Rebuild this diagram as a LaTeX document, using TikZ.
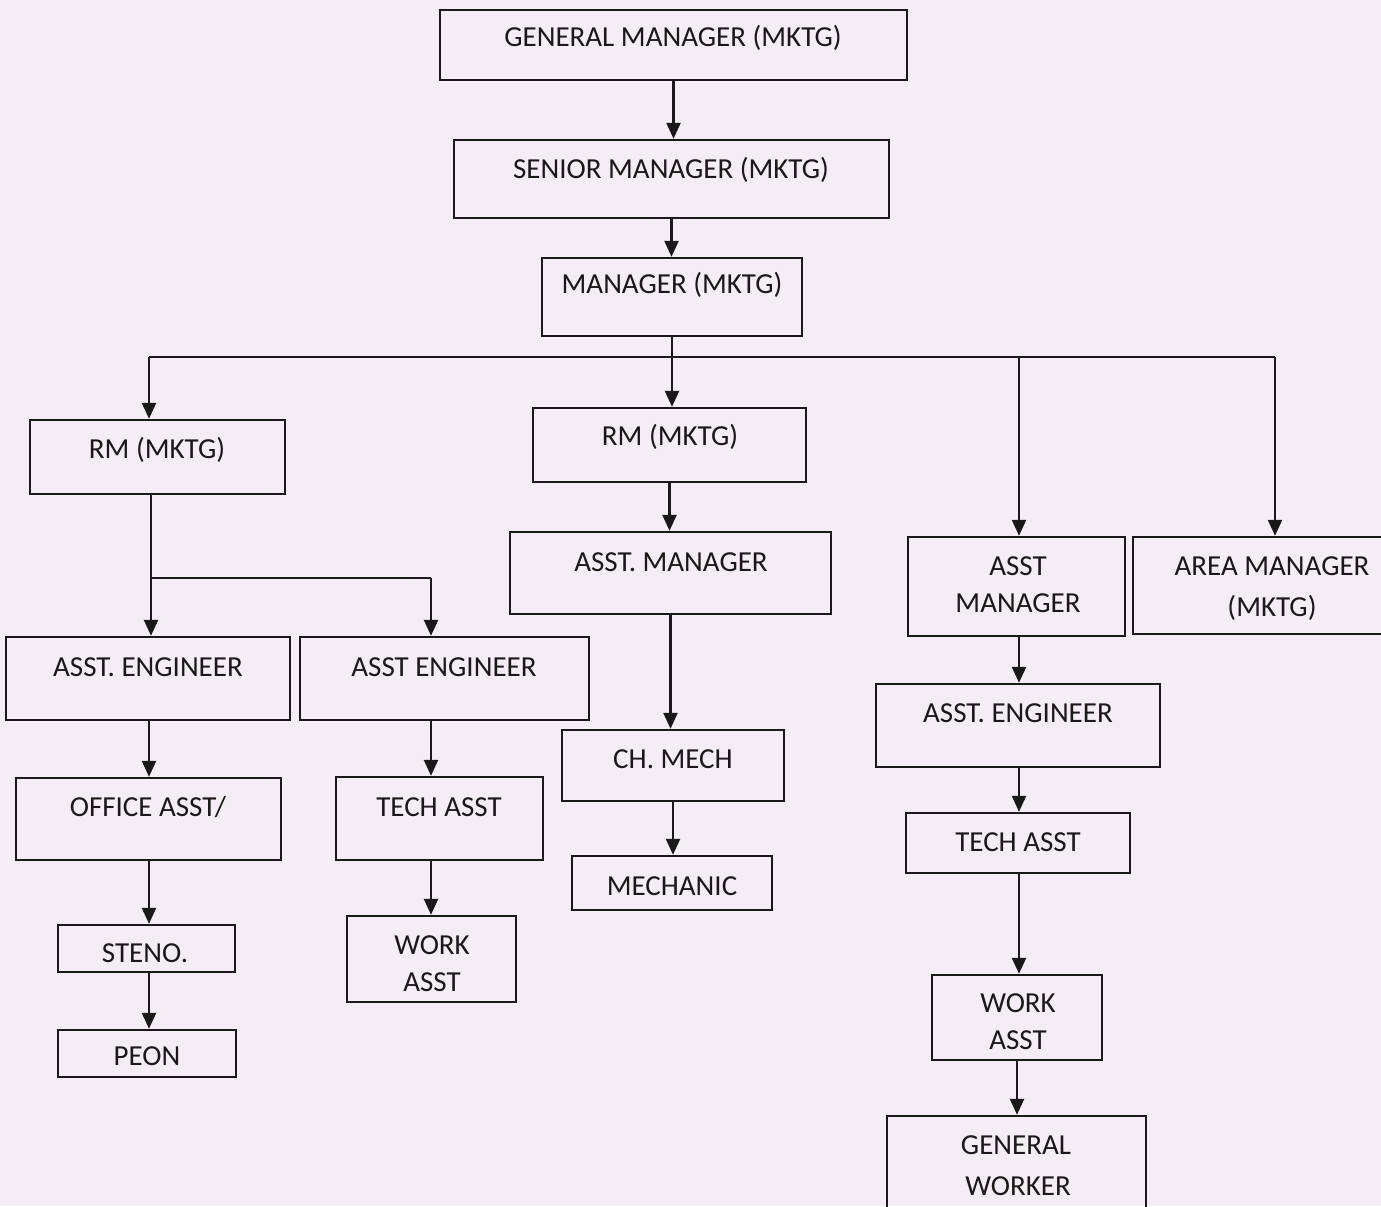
\documentclass[tikz,border=0pt]{standalone}
\usepackage{fontspec}
\setmainfont{Carlito}
\usetikzlibrary{arrows.meta,fit}
\definecolor{bg}{RGB}{245,237,245}
\definecolor{ink}{RGB}{25,25,25}
\begin{document}
\begin{tikzpicture}[x=0.5pt,y=-0.5pt,
  box/.style={draw=ink,line width=1.2pt,inner sep=0pt,rectangle},
  lbl/.style={text=ink,font=\fontsize{14.5}{17}\selectfont,inner sep=0pt,anchor=center},
  arr/.style={draw=ink,line width=1.2pt,-{Triangle[length=8pt,width=7pt]}},
  ln/.style={draw=ink,line width=1.2pt}]
\clip (0,0) rectangle (1381,1206);
\fill[bg] (0,0) rectangle (1381,1206);
% boxes
\node[box,fit={(440,10) (907,80)}] (gm) {};
\node[box,fit={(454,140) (889,218)}] (sm) {};
\node[box,fit={(542,258) (802,336)}] (mgr) {};
\node[box,fit={(30,420) (285,494)}] (rm1) {};
\node[box,fit={(533,408) (806,482)}] (rm2) {};
\node[box,fit={(510,532) (831,614)}] (am2) {};
\node[box,fit={(908,537) (1125,636)}] (am3) {};
\node[box,fit={(1133,537) (1417,634)}] (area) {};
\node[box,fit={(6,637) (290,720)}] (ae1) {};
\node[box,fit={(300,637) (589,720)}] (ae2) {};
\node[box,fit={(16,778) (281,860)}] (oa) {};
\node[box,fit={(58,925) (235,972)}] (steno) {};
\node[box,fit={(58,1030) (236,1077)}] (peon) {};
\node[box,fit={(336,777) (543,860)}] (ta2) {};
\node[box,fit={(347,916) (516,1002)}] (wa2) {};
\node[box,fit={(562,730) (784,801)}] (chm) {};
\node[box,fit={(572,856) (772,910)}] (mech) {};
\node[box,fit={(876,684) (1160,767)}] (ae3) {};
\node[box,fit={(906,813) (1130,873)}] (ta3) {};
\node[box,fit={(932,975) (1102,1060)}] (wa3) {};
\node[box,fit={(887,1116) (1146,1220)}] (gw) {};
% labels
\node[lbl] (tgm) at (673,38) {GENERAL MANAGER (MKTG)};
\node[lbl] (tsm) at (671,170) {SENIOR MANAGER (MKTG)};
\node[lbl] (tmgr) at (672,285) {MANAGER (MKTG)};
\node[lbl] (trm1) at (157,450) {RM (MKTG)};
\node[lbl] (trm2) at (670,437) {RM (MKTG)};
\node[lbl] (tam2) at (671,562) {ASST. MANAGER};
\node[lbl] (tam3a) at (1018,566) {ASST};
\node[lbl] (tam3b) at (1018,603) {MANAGER};
\node[lbl] (tarea1) at (1272,566) {AREA MANAGER};
\node[lbl] (tarea2) at (1272,608) {(MKTG)};
\node[lbl] (tae1) at (148,667) {ASST. ENGINEER};
\node[lbl] (tae2) at (444,667) {ASST ENGINEER};
\node[lbl] (toa) at (148,807) {OFFICE ASST/};
\node[lbl] (tsteno) at (145,953) {STENO.};
\node[lbl] (tpeon) at (147,1056) {PEON};
\node[lbl] (tta2) at (439,807) {TECH ASST};
\node[lbl] (twa2a) at (432,945) {WORK};
\node[lbl] (twa2b) at (432,982) {ASST};
\node[lbl] (tchm) at (673,759) {CH. MECH};
\node[lbl] (tmech) at (672,886) {MECHANIC};
\node[lbl] (tae3) at (1018,713) {ASST. ENGINEER};
\node[lbl] (tta3) at (1018,842) {TECH ASST};
\node[lbl] (twa3a) at (1018,1003) {WORK};
\node[lbl] (twa3b) at (1018,1040) {ASST};
\node[lbl] (tgw1) at (1016,1145) {GENERAL};
\node[lbl] (tgw2) at (1018,1186) {WORKER};
% bus coordinates
\coordinate (busL) at (149,357);
\coordinate (busR) at (1275,357);
\coordinate (bus3) at (1019,357);
\coordinate (br1) at (151,578);
\coordinate (br2) at (431,578);
% connectors
\draw[arr] (gm.south) -- (gm.south |- sm.north);
\draw[arr] (sm.south) -- (sm.south |- mgr.north);
\draw[ln] (busL) -- (busR);
\draw[arr] (mgr.south) -- (mgr.south |- rm2.north);
\draw[arr] (busL) -- (busL |- rm1.north);
\draw[arr] (bus3) -- (bus3 |- am3.north);
\draw[arr] (busR) -- (busR |- area.north);
\draw[ln] (br1 |- rm1.south) -- (br1) -- (br2);
\draw[arr] (br1) -- (br1 |- ae1.north);
\draw[arr] (br2) -- (br2 |- ae2.north);
\draw[arr] (ae1.south -| busL) -- (busL |- oa.north);
\draw[arr] (ae2.south -| br2) -- (br2 |- ta2.north);
\draw[arr] (rm2.south) -- (rm2.south |- am2.north);
\draw[arr] (am2.south) -- (am2.south |- chm.north);
\draw[arr] (chm.south) -- (chm.south |- mech.north);
\draw[arr] (bus3 |- am3.south) -- (bus3 |- ae3.north);
\draw[arr] (bus3 |- ae3.south) -- (bus3 |- ta3.north);
\draw[arr] (bus3 |- ta3.south) -- (bus3 |- wa3.north);
\draw[arr] (wa3.south) -- (wa3.south |- gw.north);
\draw[arr] (ta2.south -| br2) -- (br2 |- wa2.north);
\draw[arr] (oa.south -| busL) -- (busL |- steno.north);
\draw[arr] (steno.south -| busL) -- (busL |- peon.north);
\end{tikzpicture}
\end{document}
